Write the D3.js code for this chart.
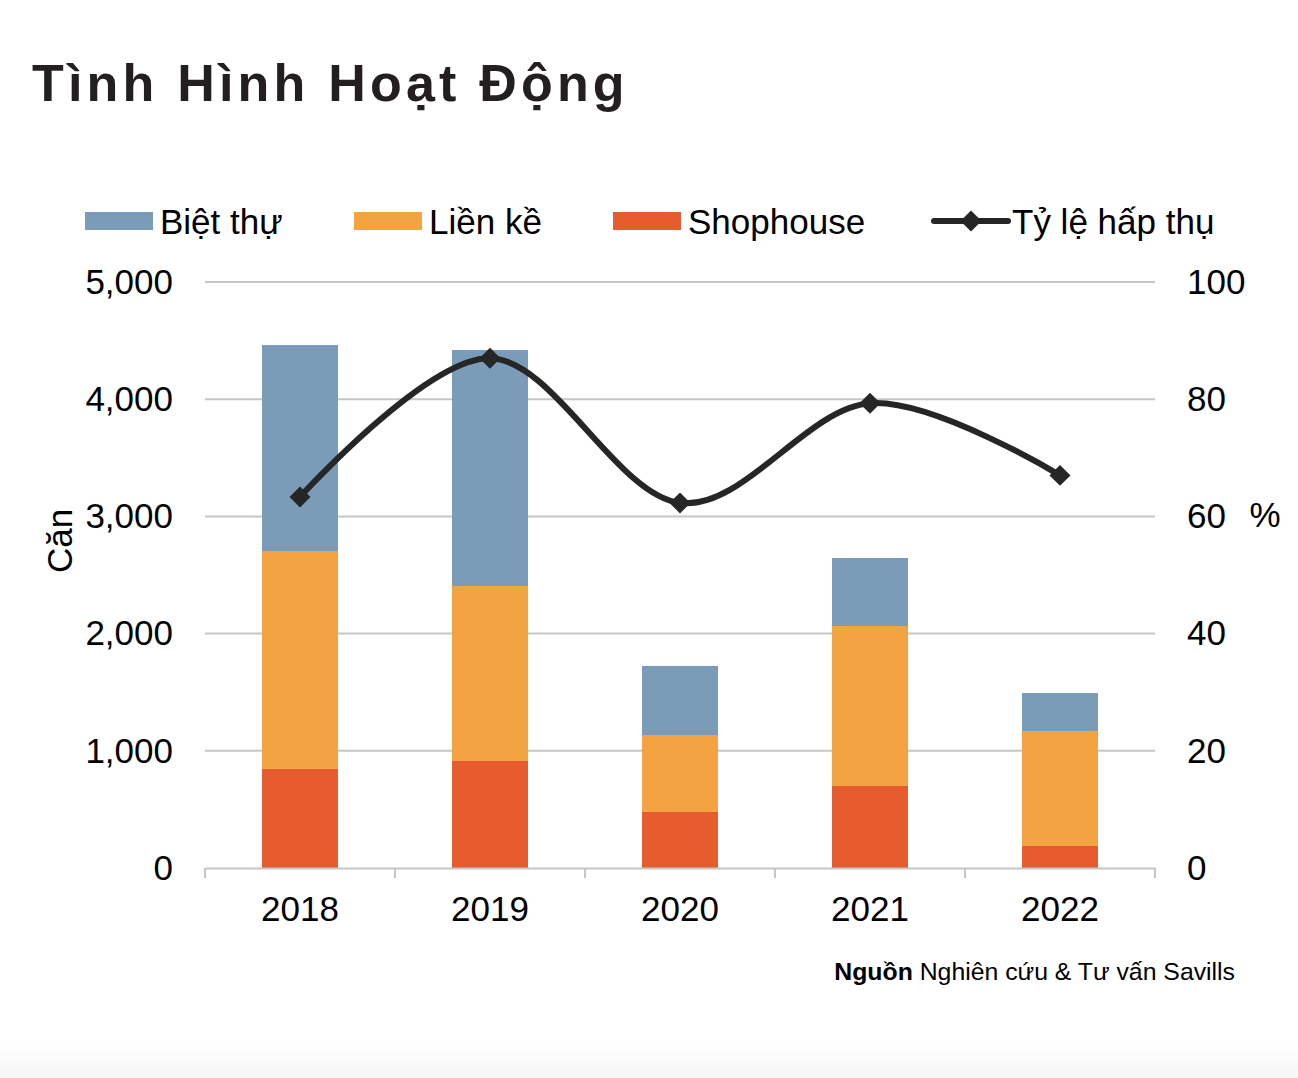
<!DOCTYPE html>
<html><head><meta charset="utf-8">
<script src="https://cdn.jsdelivr.net/npm/d3@7"></script>
<style>html,body{margin:0;padding:0;background:#fff;}svg{display:block;font-family:"Liberation Sans",Arial,sans-serif;}</style>
</head><body>
<script>
const years = ["2018","2019","2020","2021","2022"];
const bietThu = [1757, 2014, 589, 580, 324];
const lienKe = [1860, 1493, 657, 1365, 981];
const shophouse = [845, 913, 478, 700, 188];
const tyLeHapThu = [63.3, 87.0, 62.3, 79.3, 67.0];
const leftTicks = [0, 1000, 2000, 3000, 4000, 5000];
const rightTicks = [0, 20, 40, 60, 80, 100];
const seriesNames = ["Biệt thự", "Liền kề", "Shophouse", "Tỷ lệ hấp thụ"];
const colors = {"Biệt thự":"#7a9cb8","Liền kề":"#f4a343","Shophouse":"#e65c2f","Tỷ lệ hấp thụ":"#262626"};

const W = 1298, H = 1078;
const FS = 35;
const svg = d3.select("body").append("svg").attr("width", W).attr("height", H);

const defs = svg.append("defs");
const grad = defs.append("linearGradient").attr("id","bg").attr("x1",0).attr("x2",0).attr("y1",0).attr("y2",1);
grad.append("stop").attr("offset","0%").attr("stop-color","#ffffff");
grad.append("stop").attr("offset","100%").attr("stop-color","#f6f6f6");
svg.append("rect").attr("x",0).attr("y",1045).attr("width",W).attr("height",H-1045).attr("fill","url(#bg)");

// title
svg.append("text").attr("x", 32).attr("y", 101).text("Tình Hình Hoạt Động")
  .attr("font-size", 52).attr("font-weight", "bold").attr("letter-spacing", 4.2).attr("fill", "#231f20");

const x0 = 205, x1 = 1155, yTop = 282, yBot = 868;
const x = d3.scaleBand().domain(years).range([x0, x1]).paddingInner(0.6).paddingOuter(0.3);
const xb = d3.scaleBand().domain(years).range([x0, x1]);
const yL = d3.scaleLinear().domain([0, 5000]).range([yBot, yTop]);
const yR = d3.scaleLinear().domain([0, 100]).range([yBot, yTop]);

// gridlines
svg.append("g").selectAll("line").data(leftTicks.slice(1)).join("line")
  .attr("x1", x0).attr("x2", x1).attr("y1", d => yL(d)).attr("y2", d => yL(d))
  .attr("stroke", "#c6c6c6").attr("stroke-width", 2);

// left axis labels
const gl = svg.append("g").attr("transform", `translate(${x0},0)`)
  .call(d3.axisLeft(yL).tickValues(leftTicks).tickFormat(d3.format(",")).tickSize(0).tickPadding(32));
gl.select(".domain").remove();
gl.selectAll("text").attr("font-size", FS).attr("font-family", "Liberation Sans, Arial, sans-serif").attr("fill", "#000");

// right axis labels
const gr = svg.append("g").attr("transform", `translate(${x1},0)`)
  .call(d3.axisRight(yR).tickValues(rightTicks).tickSize(0).tickPadding(32));
gr.select(".domain").remove();
gr.selectAll("text").attr("font-size", FS).attr("font-family", "Liberation Sans, Arial, sans-serif").attr("fill", "#000");

// stacked bars
const table = years.map((y, i) => ({year: y, "Shophouse": shophouse[i], "Liền kề": lienKe[i], "Biệt thự": bietThu[i]}));
const stack = d3.stack().keys(["Shophouse", "Liền kề", "Biệt thự"])(table);
svg.append("g").selectAll("g").data(stack).join("g").attr("fill", d => colors[d.key])
  .selectAll("rect").data(d => d).join("rect")
  .attr("x", d => x(d.data.year)).attr("width", x.bandwidth())
  .attr("y", d => yL(d[1])).attr("height", d => yL(d[0]) - yL(d[1]));

// bottom axis
const gb = svg.append("g").attr("transform", `translate(0,${yBot})`)
  .call(d3.axisBottom(xb).tickSize(0).tickPadding(28));
gb.select(".domain").attr("stroke", "#c6c6c6").attr("stroke-width", 2);
gb.selectAll("text").attr("font-size", FS).attr("font-family", "Liberation Sans, Arial, sans-serif").attr("fill", "#000");
const bounds = years.map(y => xb(y)).concat([x1]);
svg.append("g").selectAll("line").data(bounds).join("line")
  .attr("x1", d => d).attr("x2", d => d).attr("y1", yBot).attr("y2", yBot + 10)
  .attr("stroke", "#c6c6c6").attr("stroke-width", 2);

// line
const line = d3.line().x((d, i) => xb(years[i]) + xb.bandwidth() / 2).y(d => yR(d)).curve(d3.curveCardinal.tension(0));
svg.append("path").datum(tyLeHapThu).attr("d", line).attr("fill", "none")
  .attr("stroke", colors["Tỷ lệ hấp thụ"]).attr("stroke-width", 6);
const diamond = d3.symbol().type(d3.symbolSquare).size(220);
svg.append("g").selectAll("path").data(tyLeHapThu).join("path")
  .attr("d", diamond)
  .attr("transform", (d, i) => `translate(${xb(years[i]) + xb.bandwidth() / 2},${yR(d)}) rotate(45)`)
  .attr("fill", colors["Tỷ lệ hấp thụ"]);

// axis titles
svg.append("text").attr("transform", "translate(72,541) rotate(-90)").attr("text-anchor", "middle")
  .attr("font-size", FS).attr("fill", "#000").text("Căn");
svg.append("text").attr("x", 1265).attr("y", 527).attr("text-anchor", "middle")
  .attr("font-size", FS).attr("fill", "#000").text("%");

// legend
const legY = 234;
const legItems = [
  {name: seriesNames[0], sx: 85},
  {name: seriesNames[1], sx: 354},
  {name: seriesNames[2], sx: 613}
];
legItems.forEach(it => {
  svg.append("rect").attr("x", it.sx).attr("y", 212).attr("width", 68).attr("height", 18).attr("fill", colors[it.name]);
  svg.append("text").attr("x", it.sx + 75).attr("y", legY).attr("font-size", FS).attr("fill", "#000").text(it.name);
});
svg.append("line").attr("x1", 934).attr("x2", 1008).attr("y1", 221).attr("y2", 221)
  .attr("stroke", colors["Tỷ lệ hấp thụ"]).attr("stroke-width", 6).attr("stroke-linecap", "round");
svg.append("path").attr("d", diamond).attr("transform", "translate(971,221) rotate(45)").attr("fill", colors["Tỷ lệ hấp thụ"]);
svg.append("text").attr("x", 1012).attr("y", legY).attr("font-size", FS).attr("fill", "#000").text(seriesNames[3]);

// source
const src = svg.append("text").attr("x", 1235).attr("y", 980).attr("text-anchor", "end").attr("font-size", 24.8).attr("fill", "#000");
src.append("tspan").attr("font-weight", "bold").text("Nguồn");
src.append("tspan").text(" Nghiên cứu & Tư vấn Savills");
</script>
</body></html>
